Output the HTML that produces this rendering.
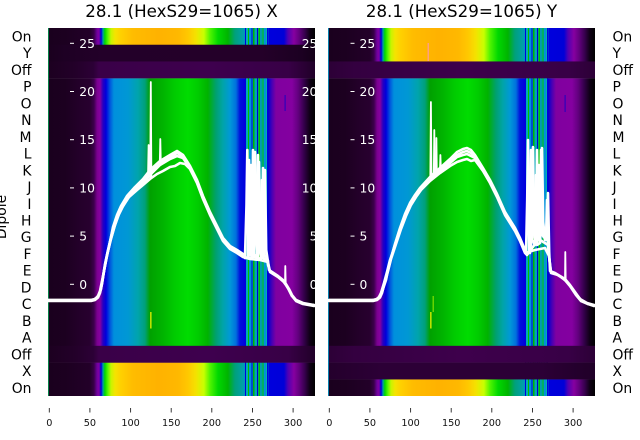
<!DOCTYPE html>
<html><head><meta charset="utf-8"><style>html,body{margin:0;padding:0;background:#fff;}svg{display:block;}</style></head>
<body>
<svg width="640" height="440" viewBox="0 0 640 440" xmlns="http://www.w3.org/2000/svg" font-family="'DejaVu Sans','Liberation Sans',sans-serif">
<defs>
<linearGradient id="gm" gradientUnits="userSpaceOnUse" x1="0" y1="0" x2="267" y2="0">
<stop offset="0" stop-color="#1a001e"/><stop offset="0.064" stop-color="#1c0020"/><stop offset="0.112" stop-color="#230029"/><stop offset="0.157" stop-color="#28002f"/><stop offset="0.172" stop-color="#3c004c"/><stop offset="0.184" stop-color="#7a0090"/><stop offset="0.195" stop-color="#8600a0"/><stop offset="0.206" stop-color="#2800c0"/><stop offset="0.217" stop-color="#0000dd"/><stop offset="0.232" stop-color="#0055dd"/><stop offset="0.247" stop-color="#0090dd"/><stop offset="0.300" stop-color="#0098d4"/><stop offset="0.337" stop-color="#00a4ac"/><stop offset="0.363" stop-color="#00a07a"/><stop offset="0.382" stop-color="#00a000"/><stop offset="0.431" stop-color="#00b400"/><stop offset="0.476" stop-color="#00cc00"/><stop offset="0.524" stop-color="#00dc00"/><stop offset="0.562" stop-color="#00cc00"/><stop offset="0.599" stop-color="#00b200"/><stop offset="0.629" stop-color="#00a070"/><stop offset="0.655" stop-color="#00a4a8"/><stop offset="0.682" stop-color="#0098d8"/><stop offset="0.704" stop-color="#0070dd"/><stop offset="0.719" stop-color="#0010dd"/><stop offset="0.738" stop-color="#0000dd"/><stop offset="0.742" stop-color="#00a0b8"/><stop offset="0.820" stop-color="#0098c8"/><stop offset="0.824" stop-color="#0000d0"/><stop offset="0.839" stop-color="#4800b4"/><stop offset="0.854" stop-color="#8000a0"/><stop offset="0.914" stop-color="#8400a0"/><stop offset="0.936" stop-color="#640080"/><stop offset="0.959" stop-color="#34004a"/><stop offset="0.981" stop-color="#0e0014"/><stop offset="1" stop-color="#000000"/>
</linearGradient>
<linearGradient id="gb" gradientUnits="userSpaceOnUse" x1="0" y1="0" x2="267" y2="0">
<stop offset="0" stop-color="#1a001e"/><stop offset="0.064" stop-color="#1c0020"/><stop offset="0.157" stop-color="#230029"/><stop offset="0.172" stop-color="#380048"/><stop offset="0.184" stop-color="#7000a0"/><stop offset="0.191" stop-color="#8000a0"/><stop offset="0.199" stop-color="#0000dd"/><stop offset="0.206" stop-color="#00a0a0"/><stop offset="0.213" stop-color="#00d800"/><stop offset="0.225" stop-color="#60f800"/><stop offset="0.236" stop-color="#c8f400"/><stop offset="0.251" stop-color="#f4e400"/><stop offset="0.273" stop-color="#ffd000"/><stop offset="0.318" stop-color="#ffbc00"/><stop offset="0.412" stop-color="#ffb200"/><stop offset="0.487" stop-color="#ffb800"/><stop offset="0.524" stop-color="#ffc800"/><stop offset="0.554" stop-color="#f4e200"/><stop offset="0.584" stop-color="#c8ff00"/><stop offset="0.607" stop-color="#50f400"/><stop offset="0.637" stop-color="#00d800"/><stop offset="0.674" stop-color="#00b400"/><stop offset="0.700" stop-color="#00a07a"/><stop offset="0.727" stop-color="#00a0a4"/><stop offset="0.738" stop-color="#0098c0"/><stop offset="0.820" stop-color="#0098c0"/><stop offset="0.828" stop-color="#0000dd"/><stop offset="0.884" stop-color="#0000d8"/><stop offset="0.899" stop-color="#5000b4"/><stop offset="0.921" stop-color="#8600a0"/><stop offset="0.940" stop-color="#640080"/><stop offset="0.963" stop-color="#34004a"/><stop offset="0.981" stop-color="#0e0014"/><stop offset="1" stop-color="#000000"/>
</linearGradient>
<linearGradient id="gy" gradientUnits="userSpaceOnUse" x1="0" y1="0" x2="267" y2="0">
<stop offset="0" stop-color="#1a001e"/><stop offset="0.064" stop-color="#1e0024"/><stop offset="0.2" stop-color="#230029"/><stop offset="0.8" stop-color="#240029"/><stop offset="0.95" stop-color="#1c0022"/><stop offset="1" stop-color="#140018"/>
</linearGradient>
<linearGradient id="go" gradientUnits="userSpaceOnUse" x1="0" y1="0" x2="267" y2="0">
<stop offset="0" stop-color="#1c0020"/><stop offset="0.1" stop-color="#230029"/><stop offset="0.17" stop-color="#2c0036"/><stop offset="0.19" stop-color="#3a0048"/><stop offset="0.6" stop-color="#3e004e"/><stop offset="0.9" stop-color="#380046"/><stop offset="0.96" stop-color="#2a0034"/><stop offset="1" stop-color="#200028"/>
</linearGradient>
<linearGradient id="go2" gradientUnits="userSpaceOnUse" x1="0" y1="0" x2="267" y2="0">
<stop offset="0" stop-color="#2c0036"/><stop offset="0.1" stop-color="#340040"/><stop offset="0.5" stop-color="#3e004c"/><stop offset="0.9" stop-color="#380046"/><stop offset="1" stop-color="#2c0036"/>
</linearGradient>
<linearGradient id="gy2" gradientUnits="userSpaceOnUse" x1="0" y1="0" x2="267" y2="0">
<stop offset="0" stop-color="#24002c"/><stop offset="0.2" stop-color="#2c0036"/><stop offset="0.8" stop-color="#2c0036"/><stop offset="1" stop-color="#200028"/>
</linearGradient>
<g id="stripes">
<rect x="197" y="0" width="1" height="368" fill="#0000dd"/>
<rect x="198.5" y="0" width="1.2" height="368" fill="#00b8b0"/>
<rect x="200" y="0" width="1" height="368" fill="#00c000"/>
<rect x="201.5" y="0" width="1.5" height="368" fill="#0090dd"/>
<rect x="203.5" y="0" width="1" height="368" fill="#0000e0"/>
<rect x="205" y="0" width="1.5" height="368" fill="#00b400"/>
<rect x="207" y="0" width="1.5" height="368" fill="#00a8b0"/>
<rect x="209" y="0" width="1" height="368" fill="#0000d0"/>
<rect x="210.5" y="0" width="1.5" height="368" fill="#00c000"/>
<rect x="212.5" y="0" width="1.5" height="368" fill="#00a0a0"/>
<rect x="214.5" y="0" width="1" height="368" fill="#00c800"/>
<rect x="216" y="0" width="1.5" height="368" fill="#0090dd"/>
<rect x="218" y="0" width="1" height="368" fill="#00b0b0"/>
<rect x="219" y="0" width="1" height="368" fill="#0000dd"/>
</g>
</defs>

<!-- LEFT PANEL -->
<g transform="translate(48,28)">
<rect x="0" y="0" width="267" height="17" fill="url(#gb)"/>
<rect x="0" y="50.18" width="267" height="268" fill="url(#gm)"/>
<rect x="0" y="334.55" width="267" height="33.45" fill="url(#gb)"/>
<use href="#stripes"/>
<rect x="0" y="16.73" width="267" height="17" fill="url(#gy)"/>
<rect x="0" y="33.45" width="267" height="16.9" fill="url(#go)"/>
<rect x="0" y="317.82" width="267" height="16.9" fill="url(#go)"/>
<rect x="0" y="0" width="1" height="368" fill="#00a050" opacity="0.8"/>
</g>

<!-- RIGHT PANEL -->
<g transform="translate(328,28)">
<rect x="0" y="0" width="267" height="33.6" fill="url(#gb)"/>
<rect x="0" y="50.18" width="267" height="268" fill="url(#gm)"/>
<rect x="0" y="351.27" width="267" height="16.73" fill="url(#gb)"/>
<use href="#stripes"/>
<rect x="0" y="33.45" width="267" height="16.9" fill="url(#go2)"/>
<rect x="0" y="317.82" width="267" height="16.9" fill="url(#go2)"/>
<rect x="0" y="334.55" width="267" height="16.9" fill="url(#gy2)"/>
<rect x="0" y="0" width="1" height="368" fill="#00a0d0" opacity="0.8"/>
</g>

<!-- glitch marks -->
<rect x="150.2" y="312" width="1.3" height="16.5" fill="#e8f000"/>
<rect x="430.2" y="312" width="1.3" height="16.5" fill="#e8f000"/>
<rect x="432.6" y="296" width="1.2" height="16" fill="#80e000"/>
<rect x="427.6" y="43" width="1.2" height="18" fill="#ff9a9a"/>
<rect x="284.6" y="95" width="1" height="16" fill="#2000c0"/>
<rect x="564.6" y="95" width="1" height="17" fill="#2000c0"/>

<!-- white lines LEFT -->
<g fill="none" stroke="#fff" stroke-width="2.6" stroke-linejoin="round" stroke-linecap="round">
<path d="M48,300 L90,300 L94,299.5 L97,297.5 L99,294.5 L101,289 L103,277 L106,260 L109,247 L113,227 L117,215 L121,206 L127,196 L135,187 L143,179 L150,170 L160,161 L170,155 L177,151 L183,155 L190,166 L197,180 L203,196 L210,212 L217,226 L223,238 L230,246 L237,250 L243,254 L245,257 L246.5,205 L247.3,150 L248.5,250 L250,255 L251,165 L252.2,245 L254,250 L255,152 L256.2,240 L258,258 L259,162 L260.2,235 L262,255 L264,245 L265,170 L266.2,250 L268,262 L269,270 L272,272 L278,276 L283,280 L286,284 L289,289 L292,295 L296,300 L303,303 L314,305"/>
<path d="M48,301 L91,301 L95,300 L98,297.5 L100,293 L102,284 L104,271 L107,255 L110,242 L114,228 L118,216 L122,208 L128,198 L136,190 L144,182 L150,175 L160,165 L170,159 L177,156 L183,158 L190,168 L197,182 L203,198 L210,214 L217,228 L223,240 L230,248 L237,252 L243,256 L245,258 L248,257 L249,160 L250.2,250 L252,256 L253,150 L254.2,255 L257,256 L258,155 L259.2,250 L262,258 L263,168 L264.2,255 L267,258 L268,265 L270,271 L276,275 L283,281 L286,285 L289,290 L292,296 L296,301 L303,304 L314,306"/>
<path d="M48,300 L91,300 L95,299 L98,296 L100,291 L102,281 L105,266 L108,251 L111,239 L115,225 L119,214 L123,206 L129,197 L137,190 L143,185 L150,179 L157,174 L163,171 L170,167 L175,166 L180,163 L185,164 L190,169 L197,183 L203,199 L210,215 L217,229 L223,241 L230,249 L237,253 L243,257 L250,259 L260,260 L268,262 L270,272 L278,277 L284,282 L288,288 L292,296 L297,301 L305,304 L314,305"/>
<path d="M48,300.5 L91,300.5 L95,299.5 L98,297 L100,292 L102,283 L105,264 L108,250 L112,233 L116,219 L120,209 L126,199 L134,189 L142,181 L150,173 L160,163 L170,157 L177,153 L183,156 L190,167 L197,181 L203,197 L210,213 L217,227 L223,239 L230,247 L237,251 L243,255 L245,258 L255,257 L261,259 L262,180 L263.2,258 L268,261"/>
</g>
<g fill="none" stroke="#fff" stroke-width="1.8" stroke-linejoin="round">
<path d="M148,176 L148.6,145 L149.2,176"/>
<path d="M150.2,178 L150.8,82 L151.4,178"/>
<path d="M159.8,162 L160.3,139 L160.8,162"/>
<path d="M285,283 L285.3,266 L285.7,283"/>
</g>

<!-- white lines RIGHT -->
<g fill="none" stroke="#fff" stroke-width="2.6" stroke-linejoin="round" stroke-linecap="round">
<path d="M329,300 L372,300 L376,299.5 L379,297.5 L381,294.5 L383,289 L386,280 L388,270 L391,258 L395,244 L400,228 L405,214 L410,203 L415,195 L420,188 L430,177 L440,168 L450,159 L457,152 L463,149 L467,148 L471,150 L475,155 L483,168 L490,180 L497,194 L505,212 L515,228 L520,238 L525,250 L526,254 L527.2,200 L528,140 L529.2,250 L531,245 L533,147 L534.2,235 L536,242 L537,150 L538.2,230 L540,240 L542,148 L543.2,222 L545,240 L547,235 L548,193 L549.2,252 L550,271 L555,273 L560,276 L565,279 L570,285 L575,292 L580,299 L587,303 L594,305"/>
<path d="M329,301 L373,301 L377,300 L380,297.5 L382,293 L384,285 L387,274 L390,262 L394,248 L399,232 L404,218 L409,207 L414,198 L420,190 L430,179 L440,171 L450,163 L457,157 L463,155 L467,154 L471,156 L475,158 L483,170 L490,182 L497,196 L505,214 L515,230 L520,240 L525,252 L530,253 L531,150 L532.2,240 L535,245 L536,175 L537.2,245 L540,243 L541,150 L542.2,235 L546,240 L547,200 L548.2,250 L549,256 L551,272 L556,274 L561,277 L566,281 L571,287 L576,294 L581,300 L588,304 L594,306"/>
<path d="M329,300 L373,300 L377,299 L380,296 L382,291 L385,282 L388,271 L391,259 L396,244 L401,229 L406,216 L411,205 L416,197 L421,190 L430,181 L440,173 L450,166 L457,162 L463,160 L467,159 L471,161 L475,160 L483,171 L490,183 L497,197 L505,215 L515,231 L520,241 L525,253 L535,250 L545,248 L549,256 L551,273 L558,275 L565,280 L570,286 L576,295 L581,301 L588,304 L594,305"/>
<path d="M329,300.5 L372,300.5 L376,300 L379,297 L381,293 L384,283 L387,272 L390,260 L395,246 L400,230 L405,216 L410,205 L415,197 L420,189 L430,178 L440,170 L450,161 L457,155 L463,152 L467,151 L471,153 L475,157 L483,169 L490,181 L497,195 L505,213 L515,229 L520,239 L525,251 L527,255 L538,240 L539,165 L540.2,240 L548,245"/>
</g>
<g fill="none" stroke="#fff" stroke-width="1.8" stroke-linejoin="round">
<path d="M430.3,178 L430.9,102 L431.5,177"/>
<path d="M433.8,174 L434.3,130 L434.8,173"/>
<path d="M436,172 L436.4,138 L436.8,171"/>
<path d="M440,168 L440.4,155 L440.8,167"/>
<path d="M565,280 L565.3,252 L565.7,280"/>
</g>

<!-- overlay axis ticks and labels (white) -->
<g stroke="#fff" stroke-width="1">
<line x1="70" y1="284.3" x2="74" y2="284.3"/><line x1="70" y1="236.1" x2="74" y2="236.1"/><line x1="70" y1="187.9" x2="74" y2="187.9"/><line x1="70" y1="139.7" x2="74" y2="139.7"/><line x1="70" y1="91.5" x2="74" y2="91.5"/><line x1="70" y1="43.3" x2="74" y2="43.3"/>
<line x1="350.5" y1="284.3" x2="354.5" y2="284.3"/><line x1="350.5" y1="236.1" x2="354.5" y2="236.1"/><line x1="350.5" y1="187.9" x2="354.5" y2="187.9"/><line x1="350.5" y1="139.7" x2="354.5" y2="139.7"/><line x1="350.5" y1="91.5" x2="354.5" y2="91.5"/><line x1="350.5" y1="43.3" x2="354.5" y2="43.3"/>
</g>
<g fill="#fff" font-size="12.3">
<text x="79.3" y="288.8">0</text><text x="79.3" y="240.6">5</text><text x="79.3" y="192.4">10</text><text x="79.3" y="144.2">15</text><text x="79.3" y="96">20</text><text x="79.3" y="47.8">25</text>
<text x="359.5" y="288.8">0</text><text x="359.5" y="240.6">5</text><text x="359.5" y="192.4">10</text><text x="359.5" y="144.2">15</text><text x="359.5" y="96">20</text><text x="359.5" y="47.8">25</text>
<g text-anchor="end">
<text x="317.4" y="288.8">0</text><text x="317.4" y="240.6">5</text><text x="317.4" y="192.4">10</text><text x="317.4" y="144.2">15</text><text x="317.4" y="96">20</text><text x="317.4" y="47.8">25</text>
</g>
</g>

<!-- white gap between panels -->
<rect x="315" y="20" width="13" height="385" fill="#fff"/>

<!-- titles -->
<g fill="#000" font-size="16.67" text-anchor="middle">
<text x="181.5" y="17">28.1 (HexS29=1065) X</text>
<text x="461.5" y="17">28.1 (HexS29=1065) Y</text>
</g>

<!-- row labels -->
<g fill="#000" font-size="13.9" text-anchor="end">
<text x="31.5" y="41.5">On</text><text x="31.5" y="58.2">Y</text><text x="31.5" y="74.9">Off</text><text x="31.5" y="91.7">P</text><text x="31.5" y="108.4">O</text><text x="31.5" y="125.1">N</text><text x="31.5" y="141.8">M</text><text x="31.5" y="158.6">L</text><text x="31.5" y="175.3">K</text><text x="31.5" y="192">J</text><text x="31.5" y="208.8">I</text><text x="31.5" y="225.5">H</text><text x="31.5" y="242.2">G</text><text x="31.5" y="258.9">F</text><text x="31.5" y="275.7">E</text><text x="31.5" y="292.4">D</text><text x="31.5" y="309.1">C</text><text x="31.5" y="325.8">B</text><text x="31.5" y="342.6">A</text><text x="31.5" y="359.3">Off</text><text x="31.5" y="376">X</text><text x="31.5" y="392.8">On</text>
</g>
<g fill="#000" font-size="13.9" text-anchor="start">
<text x="612.5" y="41.5">On</text><text x="612.5" y="58.2">Y</text><text x="612.5" y="74.9">Off</text><text x="612.5" y="91.7">P</text><text x="612.5" y="108.4">O</text><text x="612.5" y="125.1">N</text><text x="612.5" y="141.8">M</text><text x="612.5" y="158.6">L</text><text x="612.5" y="175.3">K</text><text x="612.5" y="192">J</text><text x="612.5" y="208.8">I</text><text x="612.5" y="225.5">H</text><text x="612.5" y="242.2">G</text><text x="612.5" y="258.9">F</text><text x="612.5" y="275.7">E</text><text x="612.5" y="292.4">D</text><text x="612.5" y="309.1">C</text><text x="612.5" y="325.8">B</text><text x="612.5" y="342.6">A</text><text x="612.5" y="359.3">Off</text><text x="612.5" y="376">X</text><text x="612.5" y="392.8">On</text>
</g>

<text transform="translate(6,217) rotate(-90)" text-anchor="middle" font-size="13.9" fill="#000">Dipole</text>

<!-- x axis ticks -->
<g stroke="#222" stroke-width="0.9">
<line x1="49.3" y1="408" x2="49.3" y2="412.5"/><line x1="89.9" y1="408" x2="89.9" y2="412.5"/><line x1="130.6" y1="408" x2="130.6" y2="412.5"/><line x1="171.2" y1="408" x2="171.2" y2="412.5"/><line x1="211.8" y1="408" x2="211.8" y2="412.5"/><line x1="252.5" y1="408" x2="252.5" y2="412.5"/><line x1="293.1" y1="408" x2="293.1" y2="412.5"/>
<line x1="329.3" y1="408" x2="329.3" y2="412.5"/><line x1="369.9" y1="408" x2="369.9" y2="412.5"/><line x1="410.6" y1="408" x2="410.6" y2="412.5"/><line x1="451.2" y1="408" x2="451.2" y2="412.5"/><line x1="491.8" y1="408" x2="491.8" y2="412.5"/><line x1="532.5" y1="408" x2="532.5" y2="412.5"/><line x1="573.1" y1="408" x2="573.1" y2="412.5"/>
</g>
<g fill="#111" font-size="9.7" text-anchor="middle">
<text x="49.3" y="426">0</text><text x="89.9" y="426">50</text><text x="130.6" y="426">100</text><text x="171.2" y="426">150</text><text x="211.8" y="426">200</text><text x="252.5" y="426">250</text><text x="293.1" y="426">300</text>
<text x="329.3" y="426">0</text><text x="369.9" y="426">50</text><text x="410.6" y="426">100</text><text x="451.2" y="426">150</text><text x="491.8" y="426">200</text><text x="532.5" y="426">250</text><text x="573.1" y="426">300</text>
</g>
</svg>
</body></html>
